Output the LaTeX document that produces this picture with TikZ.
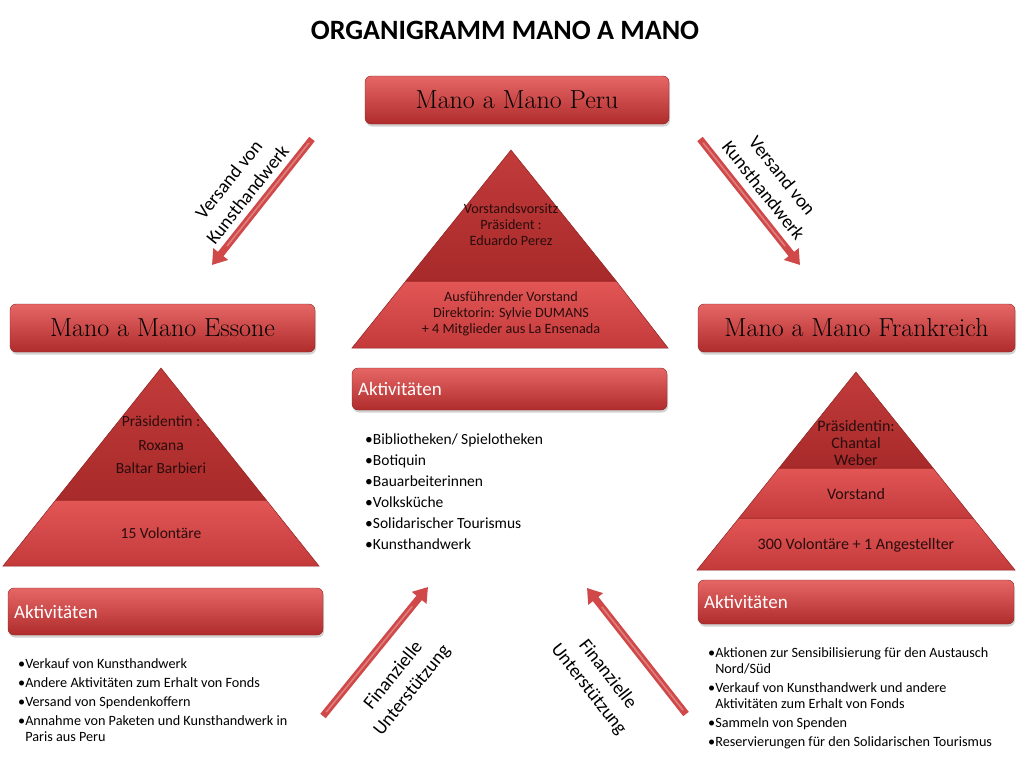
\documentclass[tikz,border=0pt]{standalone}
\usepackage{fontspec}
\setmainfont{Carlito}
\newfontfamily\uncfont{Latin Modern Roman}
\usetikzlibrary{shadows,arrows.meta,calc}
\definecolor{boxTop}{HTML}{E66666}
\definecolor{boxBot}{HTML}{B02C2C}
\definecolor{pyrTopA}{HTML}{C23B3B}
\definecolor{pyrTopB}{HTML}{A82A2A}
\definecolor{bandA}{HTML}{E25656}
\definecolor{bandB}{HTML}{C43A3A}
\definecolor{pyrLine}{HTML}{8E2222}
\definecolor{arrowRed}{HTML}{D04848}
\definecolor{darkText}{HTML}{2A0C0C}
\tikzset{
  orgbox/.style={rectangle, rounded corners=6pt, top color=boxTop, bottom color=boxBot,
    draw=boxBot!80!black, line width=0.4pt,
    drop shadow={opacity=0.35, shadow xshift=1pt, shadow yshift=-2.5pt},
    font=\uncfont\fontsize{26}{30}\selectfont, text=black, inner sep=0pt},
  actbox/.style={rectangle, rounded corners=6pt, top color=boxTop, bottom color=boxBot,
    draw=boxBot!80!black, line width=0.4pt,
    drop shadow={opacity=0.35, shadow xshift=1pt, shadow yshift=-2.5pt},
    font=\fontsize{19}{22}\selectfont, text=white, align=left, inner xsep=6pt, inner ysep=0pt},
  pyrtop/.style={top color=pyrTopA, bottom color=pyrTopB, draw=pyrLine, line width=0.5pt},
  pyrband/.style={top color=bandA, bottom color=bandB, draw=pyrLine, line width=0.5pt},
  pyrtxt/.style={font=\fontsize{14.2}{16}\selectfont, text=darkText, align=center, inner sep=0pt},
  pyrtxtB/.style={font=\fontsize{16}{17}\selectfont, text=darkText, align=center, inner sep=0pt},
  listtxt/.style={text=black, align=left, inner sep=0pt, anchor=north west},
  flow/.style={draw=arrowRed, line width=7pt, -{Triangle[width=18pt,length=14pt]}},
  flowhi/.style={draw=white, opacity=0.3, line width=1.6pt},
  flowlbl/.style={font=\fontsize{19}{24}\selectfont, align=center, text=black, inner sep=0pt},
}
\begin{document}
\begin{tikzpicture}[x=1pt,y=-1pt]
\useasboundingbox[fill=white] (0,0) rectangle (1024,768);

% title
\node[font=\bfseries\fontsize{28}{32}\selectfont] (title) at (505,30) {ORGANIGRAMM MANO A MANO};

% main boxes
\node[orgbox, minimum width=304, minimum height=48] (peru) at (517,100) {Mano a Mano Peru};
\node[orgbox, minimum width=305, minimum height=48] (essone) at (162.5,328) {Mano a Mano Essone};
\node[orgbox, minimum width=317, minimum height=48] (frank) at (856.5,328) {Mano a Mano Frankreich};

% centre pyramid
\path[pyrband] (405.8,281) -- (616.2,281) -- (668,348) -- (352,348) -- cycle;
\path[pyrtop] (511,150) -- (616.2,281) -- (405.8,281) -- cycle;
\node[pyrtxt] (cp1) at (511,225) {Vorstandsvorsitz\\Präsident :\\Eduardo Perez};
\node[pyrtxt] (cp2) at (511,314) {Ausführender Vorstand\\Direktorin: Sylvie DUMANS\\+ 4 Mitglieder aus La Ensenada};

% left pyramid
\path[pyrband] (55.7,500) -- (266.3,500) -- (319,566) -- (3,566) -- cycle;
\path[pyrtop] (161,368) -- (266.3,500) -- (55.7,500) -- cycle;
\node[pyrtxtB, font=\fontsize{15.5}{23.5}\selectfont] (lp1) at (161,445) {Präsidentin :\\Roxana\\Baltar Barbieri};
\node[pyrtxtB, font=\fontsize{15.5}{18}\selectfont] (lp2) at (161,533) {15 Volontäre};

% right pyramid
\path[pyrband] (739,518) -- (973,518) -- (1015,570) -- (697,570) -- cycle;
\path[pyrband] (779,468) -- (933,468) -- (973,518) -- (739,518) -- cycle;
\path[pyrtop] (856,372) -- (933,468) -- (779,468) -- cycle;
\node[pyrtxtB] (rp1) at (856,443) {Präsidentin:\\Chantal\\Weber};
\node[pyrtxtB] (rp2) at (856,494) {Vorstand};
\node[pyrtxtB] (rp3) at (856,545) {300 Volontäre + 1 Angestellter};

% activity boxes
\node[actbox, text width=303, minimum height=47] (actL) at (165.5,611.5) {Aktivitäten};
\node[actbox, text width=303, minimum height=42] (actC) at (509.5,389) {Aktivitäten};
\node[actbox, text width=304, minimum height=44] (actR) at (856,602) {Aktivitäten};

% lists
\node[listtxt, font=\fontsize{15.5}{21}\selectfont] (listC) at (365,434)
 {•Bibliotheken/ Spielotheken\\•Botiquin\\•Bauarbeiterinnen\\•Volksküche\\•Solidarischer Tourismus\\•Kunsthandwerk};
\node[listtxt, font=\fontsize{14.2}{16}\selectfont] (listL) at (18,658)
 {•Verkauf von Kunsthandwerk\\[3.3pt]•Andere Aktivitäten zum Erhalt von Fonds\\[3.3pt]•Versand von Spendenkoffern\\[3.3pt]•Annahme von Paketen und Kunsthandwerk in\\\phantom{•}Paris aus Peru};
\node[listtxt, font=\fontsize{14.2}{16}\selectfont] (listR) at (708,647)
 {•Aktionen zur Sensibilisierung für den Austausch\\\phantom{•}Nord/Süd\\[3pt]•Verkauf von Kunsthandwerk und andere\\\phantom{•}Aktivitäten zum Erhalt von Fonds\\[3pt]•Sammeln von Spenden\\[3pt]•Reservierungen für den Solidarischen Tourismus};

% arrows
\coordinate (a1s) at (312,139); \coordinate (a1e) at (212,265);
\coordinate (a2s) at (700,139); \coordinate (a2e) at (800,265);
\coordinate (a3s) at (323,716); \coordinate (a3e) at (428,587);
\coordinate (a4s) at (686,714); \coordinate (a4e) at (587,588);
\draw[flow] (a1s) -- (a1e);
\draw[flow] (a2s) -- (a2e);
\draw[flow] (a3s) -- (a3e);
\draw[flow] (a4s) -- (a4e);
\draw[flowhi] ($(a1s)!0.03!(a1e)$) -- ($(a1s)!0.85!(a1e)$);
\draw[flowhi] ($(a2s)!0.03!(a2e)$) -- ($(a2s)!0.85!(a2e)$);
\draw[flowhi] ($(a3s)!0.03!(a3e)$) -- ($(a3s)!0.85!(a3e)$);
\draw[flowhi] ($(a4s)!0.03!(a4e)$) -- ($(a4s)!0.85!(a4e)$);

\node[flowlbl, rotate=51.5] (t1) at (238,187) {Versand von\\Kunsthandwerk};
\node[flowlbl, rotate=-51.5] (t2) at (773,183) {Versand von\\Kunsthandwerk};
\node[flowlbl, rotate=51] (t3) at (403,683) {Finanzielle\\Unterstützung};
\node[flowlbl, rotate=-52] (t4) at (598,682) {Finanzielle\\Unterstützung};
\end{tikzpicture}
\end{document}
